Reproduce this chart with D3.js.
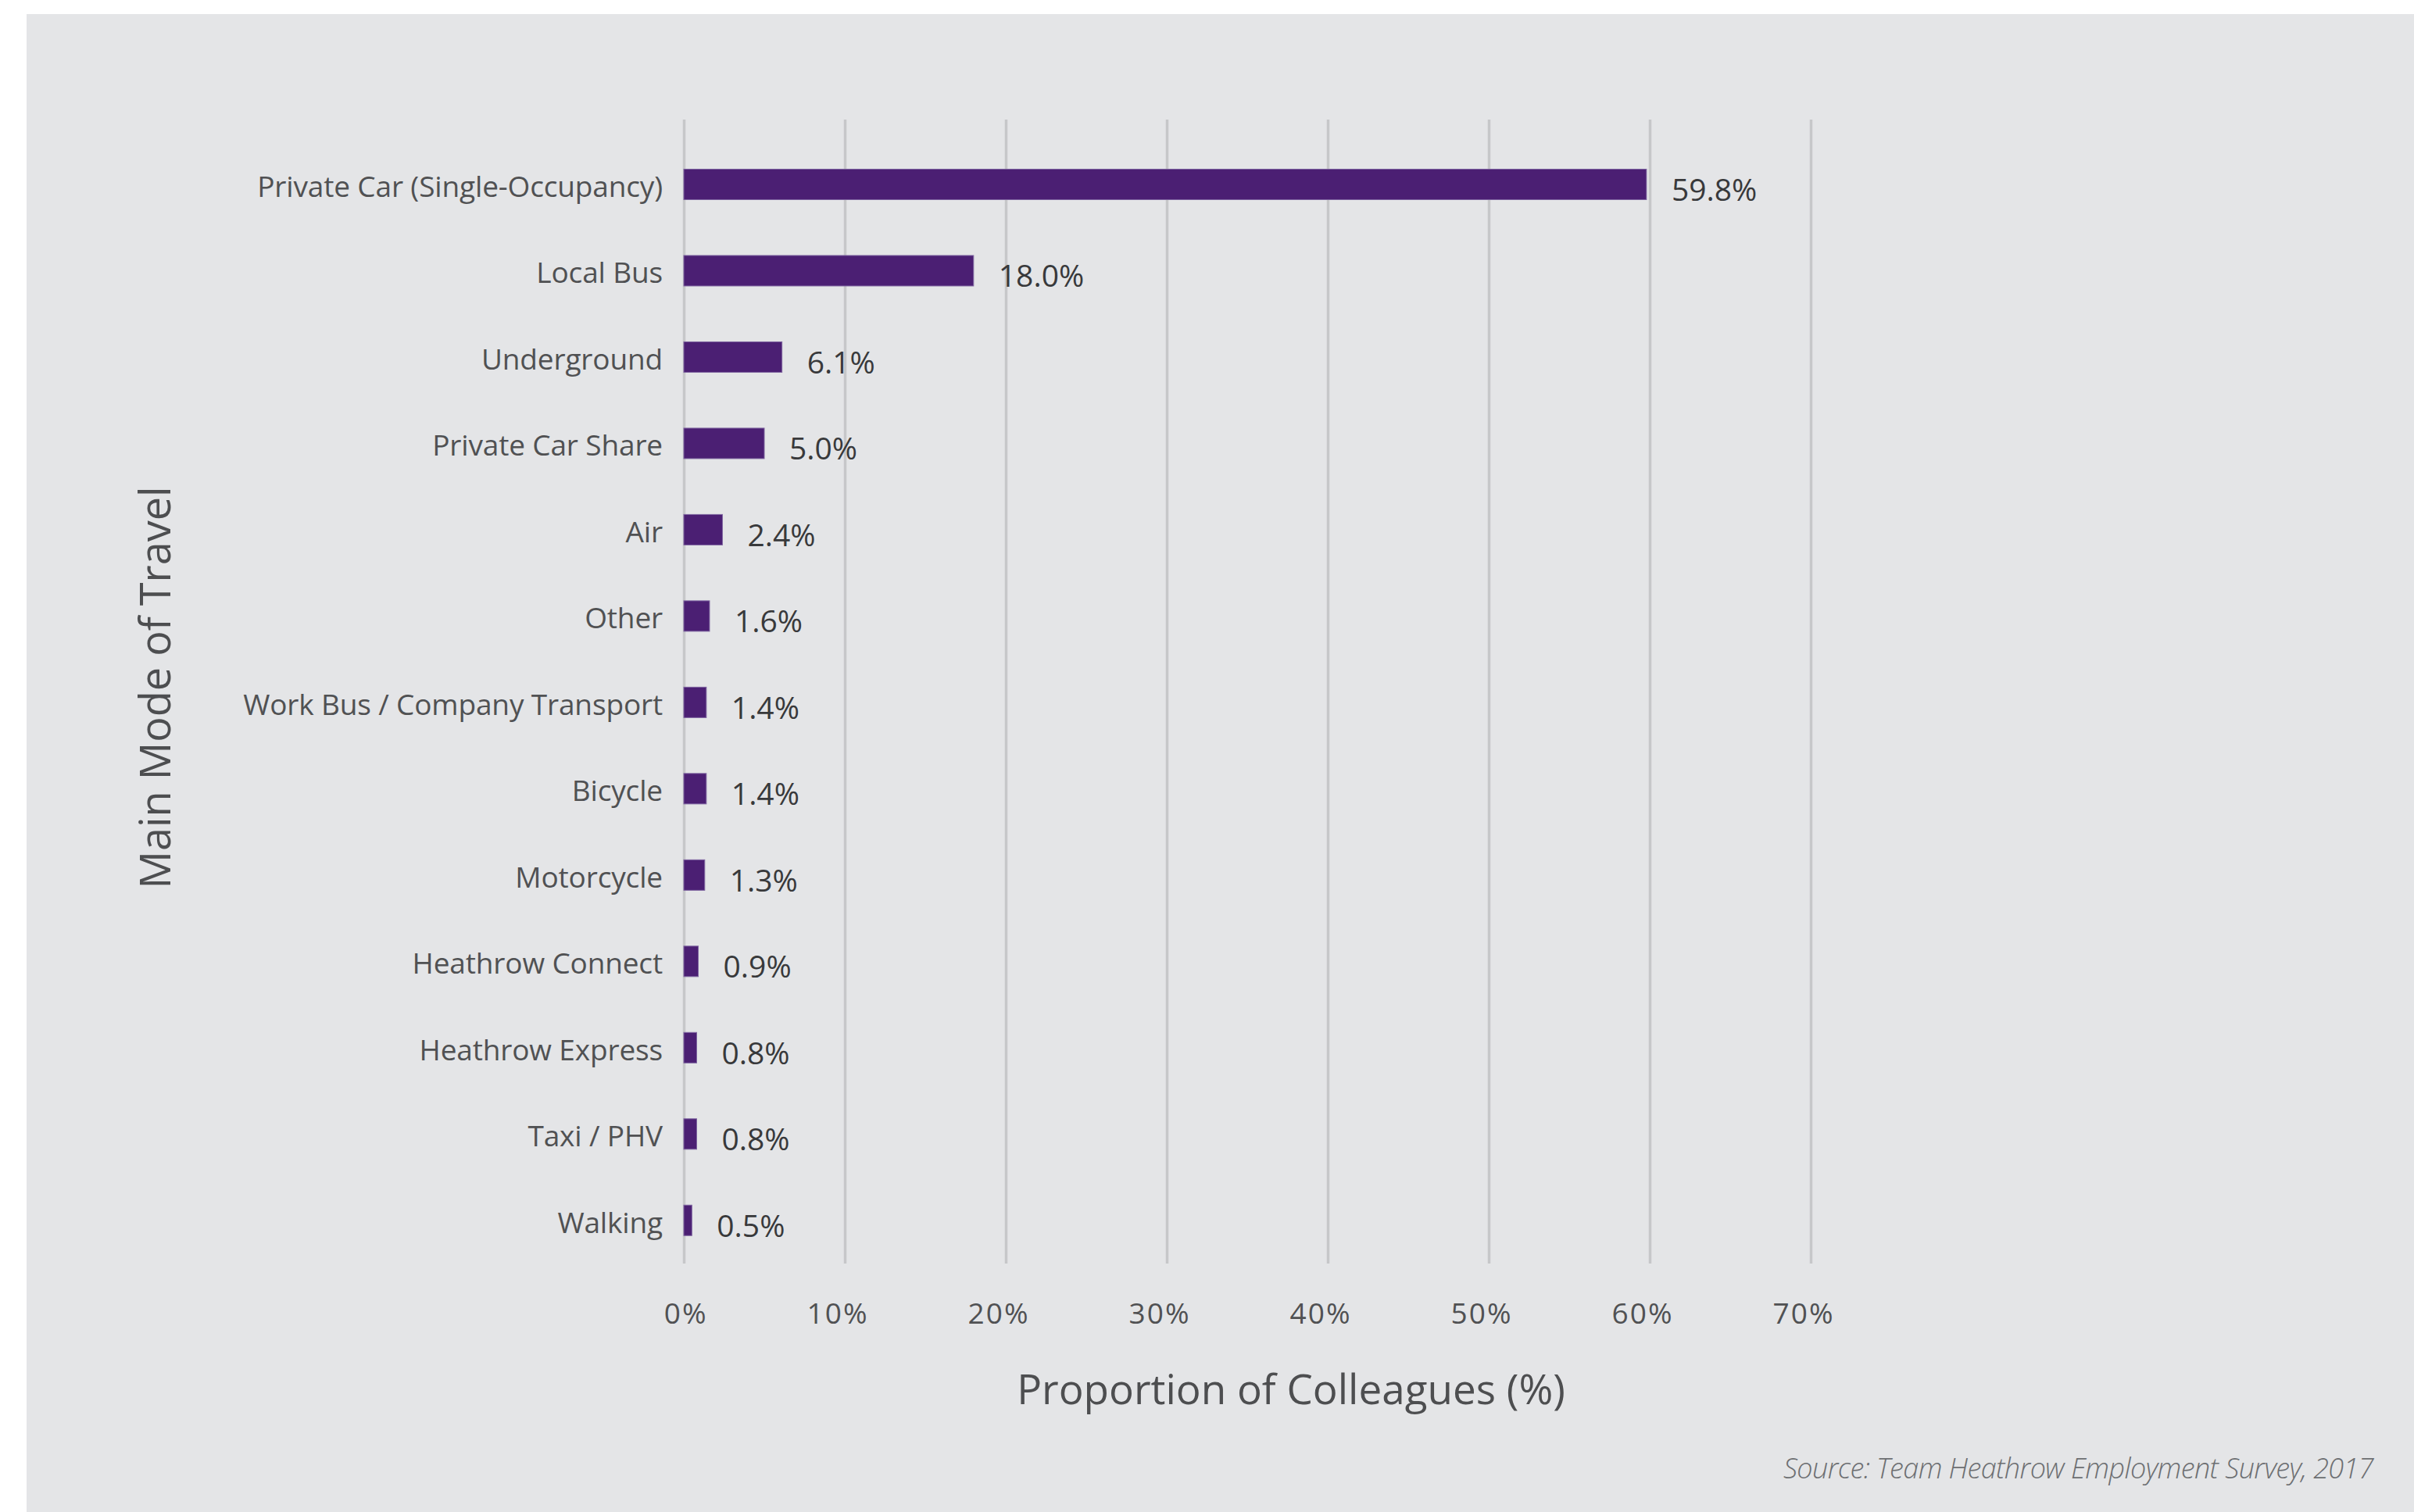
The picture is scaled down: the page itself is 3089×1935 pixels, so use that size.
<!DOCTYPE html>
<html>
<head>
<meta charset="utf-8">
<script src="https://cdn.jsdelivr.net/npm/d3@7"></script>
<style>
  html, body { margin: 0; padding: 0; background: #ffffff; }
  svg { display: block; }
</style>
</head>
<body>
<svg id="chart" width="3089" height="1935"></svg>
<script>
// ---- data ----
const categories = [
  "Private Car (Single-Occupancy)",
  "Local Bus",
  "Underground",
  "Private Car Share",
  "Air",
  "Other",
  "Work Bus / Company Transport",
  "Bicycle",
  "Motorcycle",
  "Heathrow Connect",
  "Heathrow Express",
  "Taxi / PHV",
  "Walking"
];
const values = [59.8, 18.0, 6.1, 5.0, 2.4, 1.6, 1.4, 1.4, 1.3, 0.9, 0.8, 0.8, 0.5];
const xTicks = [0, 10, 20, 30, 40, 50, 60, 70];
const xTitle = "Proportion of Colleagues (%)";
const yTitle = "Main Mode of Travel";
const sourceText = "Source: Team Heathrow Employment Survey, 2017";

// ---- layout ----
const W = 3089, H = 1935;
const plotLeft = 875, plotRight = 2317;
const gridTop = 153, gridBottom = 1617;
const bandTop = 180.75;
const FONT = "'Open Sans', 'Noto Sans', sans-serif";

const svg = d3.select("#chart");

svg.append("rect").attr("x", 34).attr("y", 18)
  .attr("width", W - 34).attr("height", H - 18)
  .attr("fill", "#e4e5e7");

const x = d3.scaleLinear().domain([0, 70]).range([plotLeft, plotRight]);
const y = d3.scaleBand().domain(categories).range([bandTop, gridBottom])
  .paddingInner(0.647).paddingOuter(0.3235);

// x axis with gridlines
const xAxis = d3.axisBottom(x)
  .tickValues(xTicks)
  .tickFormat(d => d + "%")
  .tickSizeInner(-(gridBottom - gridTop))
  .tickSizeOuter(0);

const gx = svg.append("g")
  .attr("transform", `translate(0,${gridBottom})`)
  .call(xAxis);
gx.select(".domain").remove();
gx.selectAll(".tick line")
  .attr("stroke", "#c6c7c9")
  .attr("stroke-width", 3.5);
gx.selectAll(".tick text")
  .attr("y", 77)
  .attr("dy", 0)
  .attr("dx", 30)
  .attr("text-anchor", "end")
  .attr("fill", "#505153")
  .style("font-family", FONT)
  .style("font-size", "37px")
  .style("letter-spacing", "2px");

// bars
svg.append("g").selectAll("rect")
  .data(values)
  .join("rect")
  .attr("x", x(0))
  .attr("y", (d, i) => y(categories[i]))
  .attr("width", d => x(d) - x(0))
  .attr("height", y.bandwidth())
  .attr("fill", "#4b1f73")
  .attr("stroke", "#7e64a0")
  .attr("stroke-width", 1);

// y axis labels
const yAxis = d3.axisLeft(y).tickSize(0).tickPadding(27);
const gy = svg.append("g")
  .attr("transform", `translate(${plotLeft},0)`)
  .call(yAxis);
gy.select(".domain").remove();
gy.selectAll(".tick text")
  .attr("dy", 0)
  .attr("y", 16)
  .attr("fill", "#505153")
  .style("font-family", FONT)
  .style("font-size", "37px")
  .style("letter-spacing", "-0.15px");

// value labels
svg.append("g").selectAll("text")
  .data(values)
  .join("text")
  .attr("x", d => x(d) + 32)
  .attr("y", (d, i) => y(categories[i]) + y.bandwidth() / 2 + 21)
  .attr("fill", "#38393b")
  .style("font-family", FONT)
  .style("font-size", "39px")
  .text(d => d.toFixed(1) + "%");

// x title
svg.append("text")
  .attr("x", 1652).attr("y", 1797)
  .attr("text-anchor", "middle")
  .attr("fill", "#4d4e50")
  .style("font-family", FONT)
  .style("font-size", "53px")
  .text(xTitle);

// y title
svg.append("text")
  .attr("transform", "translate(218,880) rotate(-90)")
  .attr("text-anchor", "middle")
  .attr("fill", "#4d4e50")
  .style("font-family", FONT)
  .style("font-size", "54px")
  .text(yTitle);

// source
svg.append("text")
  .attr("x", 3037).attr("y", 1892)
  .attr("text-anchor", "end")
  .attr("fill", "#6d6f72")
  .style("font-family", FONT)
  .style("font-style", "italic")
  .style("font-weight", 300)
  .style("font-size", "36px")
  .style("letter-spacing", "-0.6px")
  .text(sourceText);
</script>
</body>
</html>
